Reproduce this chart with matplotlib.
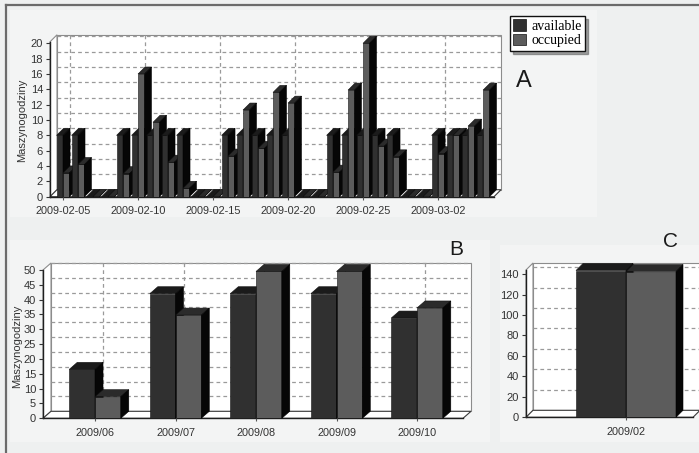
import matplotlib
matplotlib.use("Agg")
import matplotlib.pyplot as plt
from matplotlib.patches import Polygon, Rectangle, Patch
from matplotlib.lines import Line2D
from matplotlib.transforms import IdentityTransform

# ---------------- data ----------------
dates_A = ['2009-02-05', '2009-02-06', '2009-02-07', '2009-02-08', '2009-02-09',
           '2009-02-10', '2009-02-11', '2009-02-12', '2009-02-13', '2009-02-14',
           '2009-02-15', '2009-02-16', '2009-02-17', '2009-02-18', '2009-02-19',
           '2009-02-20', '2009-02-21', '2009-02-22', '2009-02-23', '2009-02-24',
           '2009-02-25', '2009-02-26', '2009-02-27', '2009-02-28', '2009-03-01',
           '2009-03-02', '2009-03-03', '2009-03-04', '2009-03-05']
available_A = [8, 8, 0, 0, 8, 8, 8, 8, 8, 0, 0, 8, 8, 8, 8,
               8, 0, 0, 8, 8, 8, 8, 8, 0, 0, 8, 8, 8, 8]
occupied_A = [3.1, 4.2, 0, 0, 3.0, 16.0, 9.7, 4.5, 1.1, 0, 0, 5.3, 11.3, 6.3, 13.6,
              12.2, 0, 0, 3.2, 13.9, 20.0, 6.6, 5.2, 0, 0, 5.6, 8.0, 9.2, 13.9]
yticks_A = [0, 2, 4, 6, 8, 10, 12, 14, 16, 18, 20]
label_step_A = 5

months_B = ['2009/06', '2009/07', '2009/08', '2009/09', '2009/10']
available_B = [16.5, 42.0, 42.0, 42.0, 33.8]
occupied_B = [7.3, 34.8, 49.5, 49.5, 37.2]
yticks_B = [0, 5, 10, 15, 20, 25, 30, 35, 40, 45, 50]

months_C = ['2009/02']
available_C = [143.5]
occupied_C = [142.5]
yticks_C = [0, 20, 40, 60, 80, 100, 120, 140]

series_names = ['available', 'occupied']

# ---------------- style ----------------
W, H = 699, 453
BG = '#eef0f0'
PANEL = '#f3f4f4'
DARK = '#303030'
GREY = '#5c5c5c'
TOP_COLORS = ['#1b1b1b', '#2b2b2b']
SIDE = '#060606'
TXT = '#333333'
plt.rcParams['font.family'] = ['Liberation Sans', 'DejaVu Sans']

fig = plt.figure(figsize=(W / 100, H / 100), dpi=100)
fig.patch.set_facecolor(BG)
ID = IdentityTransform()


def fig_rect(x0, y0, x1, y1, color):
    fig.add_artist(Rectangle((x0, H - y1), x1 - x0, y1 - y0, transform=ID,
                             facecolor=color, edgecolor='none', zorder=0))


# panel backgrounds and outer frame
fig_rect(10, 10, 597, 217, PANEL)
fig_rect(10, 240, 490, 442, PANEL)
fig_rect(500, 245, 699, 442, PANEL)
fig.add_artist(Line2D([6, 6], [0, H - 5], transform=ID, color='#6a6a6a', lw=1.6))
fig.add_artist(Line2D([6, W], [H - 5, H - 5], transform=ID, color='#6a6a6a', lw=1.6))


def make_axes(x0, y0, x1, y1, xlim, ylim):
    ax = fig.add_axes([x0 / W, 1 - y1 / H, (x1 - x0) / W, (y1 - y0) / H])
    ax.patch.set_visible(False)
    ax.set_xlim(*xlim)
    ax.set_ylim(*ylim)
    for s in ('top', 'right'):
        ax.spines[s].set_visible(False)
    for s in ('left', 'bottom'):
        ax.spines[s].set_color('#1e1e1e')
        ax.spines[s].set_linewidth(1.0)
        ax.spines[s].set_zorder(1)
    ax.tick_params(axis='y', direction='out', length=3, width=0.8, color='#333333',
                   pad=2, labelsize=8, labelcolor=TXT)
    ax.tick_params(axis='x', direction='out', length=2, width=0.8, color='#555555',
                   pad=5, labelsize=7.8, labelcolor=TXT)
    return ax


def poly(ax, pts, fc, ec, lw, z):
    ax.add_patch(Polygon(pts, closed=True, transform=ID, facecolor=fc, edgecolor=ec,
                         lw=lw, zorder=z, clip_on=False))


def draw_box(ax, dx, dy, yticks, xgrid):
    (x0, y0), (x1, y1) = ax.transAxes.transform([(0, 0), (1, 1)])
    poly(ax, [(x0 + dx, y0 + dy), (x1 + dx, y0 + dy), (x1 + dx, y1 + dy), (x0 + dx, y1 + dy)],
         'white', '#8c8c8c', 0.8, 0.1)
    poly(ax, [(x0, y0), (x0 + dx, y0 + dy), (x0 + dx, y1 + dy), (x0, y1)],
         'white', '#8c8c8c', 0.8, 0.2)
    poly(ax, [(x0, y0), (x1, y0), (x1 + dx, y0 + dy), (x0 + dx, y0 + dy)],
         'white', '#3a3a3a', 0.8, 0.2)
    for v in yticks[1:]:
        yv = ax.transData.transform((0, v))[1]
        ax.add_line(Line2D([x0 + dx, x1 + dx], [yv + dy, yv + dy], transform=ID,
                           color='#9a9a9a', lw=0.9, ls=(0, (3, 2.5)), zorder=0.3,
                           clip_on=False))
    for c in xgrid:
        xc = ax.transData.transform((c, 0))[0]
        ax.add_line(Line2D([xc + dx, xc + dx], [y0 + dy, y1 + dy], transform=ID,
                           color='#9a9a9a', lw=0.9, ls=(0, (3, 2.5)), zorder=0.3,
                           clip_on=False))


def bars3d(ax, n, series, colors, width, offsets, dx, dy):
    conts = []
    for vals, col, off in zip(series, colors, offsets):
        conts.append(ax.bar([i + off for i in range(n)], vals, width, color=col,
                            edgecolor='#141414', lw=0.4))
    z = 2.0
    for i in range(n):
        for k, cont in enumerate(conts):
            b = cont.patches[i]
            (xl, yb), (xr, yt) = ax.transData.transform(
                [(b.get_x(), 0), (b.get_x() + b.get_width(), b.get_height())])
            b.set_zorder(z)
            poly(ax, [(xl, yt), (xr, yt), (xr + dx, yt + dy), (xl + dx, yt + dy)],
                 TOP_COLORS[k], '#101010', 0.4, z + 0.01)
            poly(ax, [(xr, yb), (xr + dx, yb + dy), (xr + dx, yt + dy), (xr, yt)],
                 SIDE, '#000000', 0.4, z + 0.02)
            z += 0.1
    return conts


# ---------------- panel A ----------------
axA = make_axes(50, 41.8, 494, 196.7, (-0.867, 28.73), (0, 20.2))
nA = len(dates_A)
tick_pos_A = list(range(0, nA, label_step_A))
draw_box(axA, 7, 7, yticks_A, tick_pos_A)
contA = bars3d(axA, nA, [available_A, occupied_A], [DARK, GREY], 0.43, [-0.215, 0.215], 7, 7)
axA.set_yticks(yticks_A)
axA.set_xticks(tick_pos_A)
axA.set_xticklabels([dates_A[i] for i in tick_pos_A])
fig.text(22 / W, 1 - 120 / H, 'Maszynogodziny', rotation=90, ha='center', va='center',
         fontsize=8, color=TXT)

fig.legend(handles=[Patch(facecolor=DARK, edgecolor='#111111', lw=0.5),
                    Patch(facecolor=GREY, edgecolor='#111111', lw=0.5)],
           labels=series_names, loc='upper left',
           bbox_to_anchor=(510 / W, 1 - 16 / H), bbox_transform=fig.transFigure,
           frameon=True, shadow=True, fancybox=False, borderaxespad=0,
           prop={'family': 'Liberation Serif', 'size': 10},
           handlelength=0.9, handleheight=0.9, handletextpad=0.4,
           borderpad=0.25, labelspacing=0.05, edgecolor='#111111', framealpha=1)

fig.text(524 / W, 1 - 81 / H, 'A', ha='center', va='center', fontsize=17, color='#1a1a1a')

# ---------------- panel B ----------------
axB = make_axes(43, 270, 463, 418.3, (-0.646, 4.571), (0, 50))
nB = len(months_B)
draw_box(axB, 8, 7, yticks_B, list(range(nB)))
bars3d(axB, nB, [available_B, occupied_B], [DARK, GREY], 0.32, [-0.16, 0.16], 8, 7)
axB.set_yticks(yticks_B)
axB.set_xticks(list(range(nB)))
axB.set_xticklabels(months_B)
fig.text(17 / W, 1 - 346 / H, 'Maszynogodziny', rotation=90, ha='center', va='center',
         fontsize=8, color=TXT)
fig.text(456 / W, 1 - 249 / H, 'B', ha='center', va='center', fontsize=15, color='#1a1a1a')

# ---------------- panel C ----------------
axC = make_axes(526, 270, 693, 417.3, (-1.0, 0.67), (0, 144))
nC = len(months_C)
draw_box(axC, 7, 7, yticks_C, list(range(nC)))
bars3d(axC, nC, [available_C, occupied_C], [DARK, GREY], 0.5, [-0.25, 0.25], 7, 7)
axC.set_yticks(yticks_C)
axC.set_xticks(list(range(nC)))
axC.set_xticklabels(months_C)
fig.text(671 / W, 1 - 241 / H, 'C', ha='center', va='center', fontsize=15, color='#1a1a1a')

fig.savefig('out.png', dpi=100, facecolor=fig.get_facecolor())
